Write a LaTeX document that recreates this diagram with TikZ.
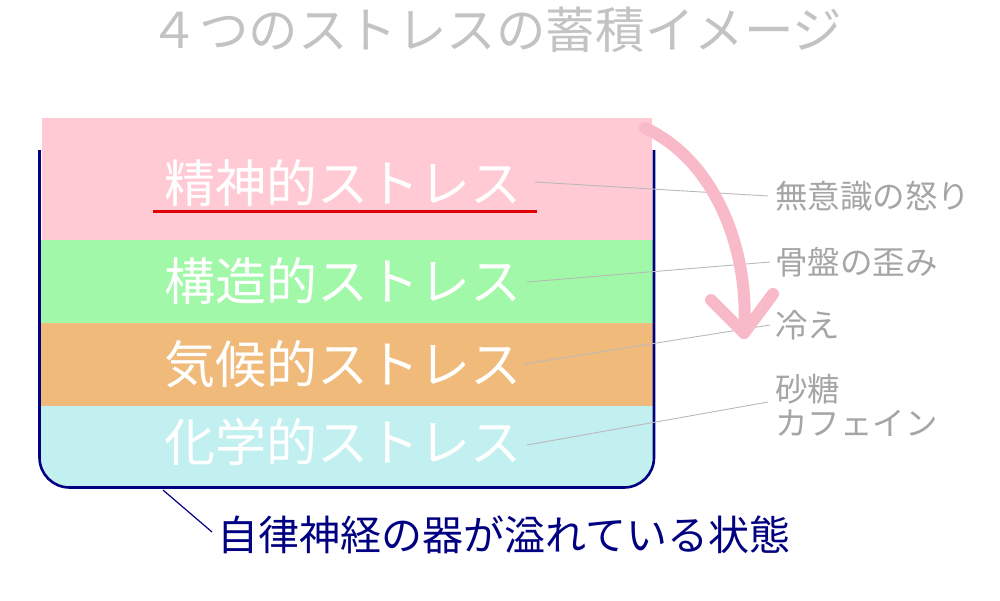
\documentclass[tikz,border=0pt]{standalone}
\usepackage{fontspec}
\setmainfont{Noto Sans CJK JP}
\definecolor{pinkL}{RGB}{255,202,212}
\definecolor{greenL}{RGB}{160,248,168}
\definecolor{orangeL}{RGB}{240,186,122}
\definecolor{cyanL}{RGB}{194,240,240}
\definecolor{arrowP}{RGB}{248,186,200}
\definecolor{navyC}{RGB}{0,0,128}
\definecolor{labelG}{RGB}{165,165,165}
\definecolor{titleG}{RGB}{195,195,195}
\definecolor{leadG}{RGB}{185,185,185}
\definecolor{redU}{RGB}{225,0,0}
\tikzset{
  layertext/.style={text=white,font=\fontsize{51}{51}\selectfont,inner sep=0pt},
  sidelabel/.style={text=labelG,font=\fontsize{32.5}{34}\selectfont,inner sep=0pt,anchor=west,align=left},
  leader/.style={draw=leadG,line width=0.9pt},
}
\begin{document}
\begin{tikzpicture}[x=1pt,y=-1pt]
\useasboundingbox (0,0) rectangle (1000,600);
% layers
\fill[pinkL] (42,118) rectangle (652,240);
\fill[greenL] (41,240) rectangle (653,323);
\fill[orangeL] (41,323) rectangle (653,406);
\fill[cyanL,rounded corners=30] (41,406) -- (41,487) -- (653,487) -- (653,406) -- cycle;
\fill[cyanL] (41,406) rectangle (653,440);
% container
\draw[navyC,line width=2.6pt,rounded corners=30] (39.5,150) -- (39.5,487.5) -- (654,487.5) -- (654,150);
% title
\node[text=titleG,font=\fontsize{49.5}{50}\selectfont,inner sep=0pt] (title) at (496,30) {４つのストレスの蓄積イメージ};
% layer texts
\node[layertext] (t1) at (343,183) {精神的ストレス};
\node[layertext] (t2) at (343,281) {構造的ストレス};
\node[layertext] (t3) at (343,364) {気候的ストレス};
\node[layertext] (t4) at (343,442) {化学的ストレス};
\draw[redU,line width=3pt] (153,211) -- (537,211);
% side labels
\node[sidelabel] (l1) at (775,196) {無意識の怒り};
\node[sidelabel] (l2) at (775,262) {骨盤の歪み};
\node[sidelabel] (l3) at (775,325) {冷え};
\node[sidelabel] (l4) at (775,405) {砂糖\\カフェイン};
\coordinate (s1) at (535,182);
\coordinate (s2) at (527,282);
\coordinate (s3) at (524,364);
\coordinate (s4) at (527,445);
\coordinate (e1) at (768,196);
\coordinate (e2) at (770,262);
\coordinate (e3) at (770,325);
\coordinate (e4) at (768,402);
\draw[leader] (s1) -- (e1);
\draw[leader] (s2) -- (e2);
\draw[leader] (s3) -- (e3);
\draw[leader] (s4) -- (e4);
% arrow
\coordinate (a0) at (645,128);
\coordinate (a1) at (744,333);
\coordinate (h1) at (711,300);
\coordinate (h2) at (773,294);
\draw[arrowP,line width=12pt,line cap=round,line join=round] (a0) .. controls (715,160) and (750,250) .. (a1);
\draw[arrowP,line width=12pt,line cap=round,line join=round] (h1) -- (a1) -- (h2);
% bottom
\node[text=navyC,font=\fontsize{41}{41}\selectfont,inner sep=0pt] (caption) at (504,535) {自律神経の器が溢れている状態};
\coordinate (c0) at (163,490);
\coordinate (c1) at (212,532);
\draw[navyC,line width=1.2pt] (c0) -- (c1);
\end{tikzpicture}
\end{document}
